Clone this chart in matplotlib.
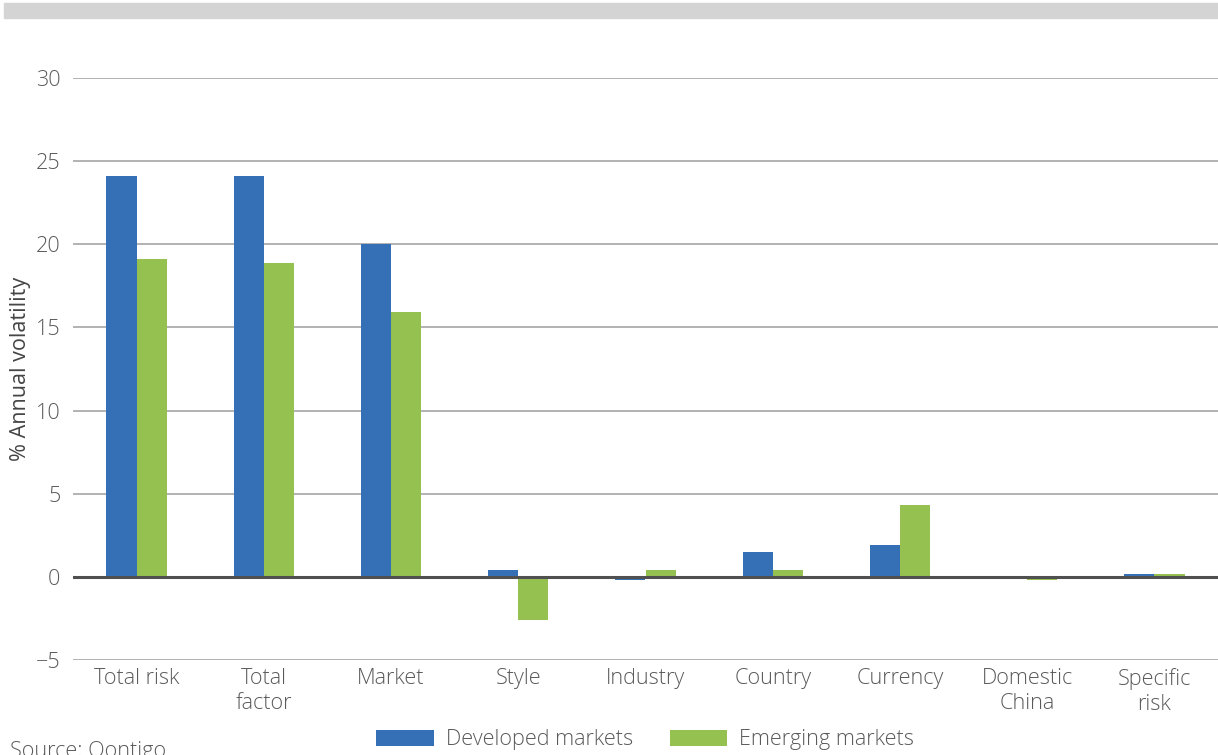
import matplotlib
matplotlib.use("Agg")
import matplotlib.pyplot as plt
from matplotlib.patches import Rectangle
import numpy as np

categories = ["Total risk", "Total\nfactor", "Market", "Style", "Industry",
              "Country", "Currency", "Domestic\nChina", "Specific\nrisk"]
developed = [24.1, 24.1, 20.0, 0.4, -0.2, 1.5, 1.9, 0.0, 0.2]
emerging = [19.1, 18.9, 15.9, -2.6, 0.4, 0.4, 4.3, -0.2, 0.2]
yticks = [-5, 0, 5, 10, 15, 20, 25, 30]
ytick_labels = ["\u22125", "0", "5", "10", "15", "20", "25", "30"]

plt.rcParams['font.family'] = ['Open Sans', 'DejaVu Sans']
txt = "#5a5a5a"
blue = "#3570b7"
green = "#95c150"
fs = 15.6

fig = plt.figure(figsize=(12.18, 7.55), dpi=100)
# top grey band
fig.patches.append(Rectangle((4/1218, 1-18/755), 1-4/1218, 15/755,
                             transform=fig.transFigure, color="#d4d4d4", zorder=0))

ax = fig.add_axes([73/1218, 1-660/755, 1145/1218, (660-78)/755])
x = np.arange(len(categories))
w = 0.237
ax.bar(x - w/2, developed, w, color=blue, label="Developed markets", zorder=3)
ax.bar(x + w/2, emerging, w, color=green, label="Emerging markets", zorder=3)

ax.set_xlim(-0.5, len(categories) - 0.5)
ax.set_ylim(-5, 30)
ax.set_yticks(yticks)
ax.set_yticklabels(ytick_labels)
ax.set_xticks(x)
ax.set_xticklabels(categories, linespacing=1.2)
for s in ax.spines.values():
    s.set_visible(False)
ax.grid(axis='y', color="#a6a6a6", linewidth=1.2, zorder=0)
ax.axhline(0, color="#505050", linewidth=2.2, zorder=4)
ax.tick_params(axis='both', length=0, labelsize=fs, labelcolor=txt)
ax.tick_params(axis='y', pad=9)
ax.tick_params(axis='x', pad=6)
for t in ax.get_xticklabels() + ax.get_yticklabels():
    t.set_fontweight('light')

fig.text(21/1218, 1-369/755, "% Annual volatility", fontsize=fs, color="#454545",
         rotation=90, ha='center', va='center')

leg = fig.legend(loc='center', bbox_to_anchor=(645/1218, 1-740/755), ncol=2,
                 frameon=False, fontsize=fs, handlelength=2.65, handleheight=0.7,
                 columnspacing=1.7, handletextpad=0.55)
for t in leg.get_texts():
    t.set_color(txt)
    t.set_fontweight('light')

fig.text(10/1218, 1-751/755, "Source: Qontigo", fontsize=fs, color=txt,
         fontweight='light', va='center', ha='left')

fig.savefig("out.png", dpi=100)
